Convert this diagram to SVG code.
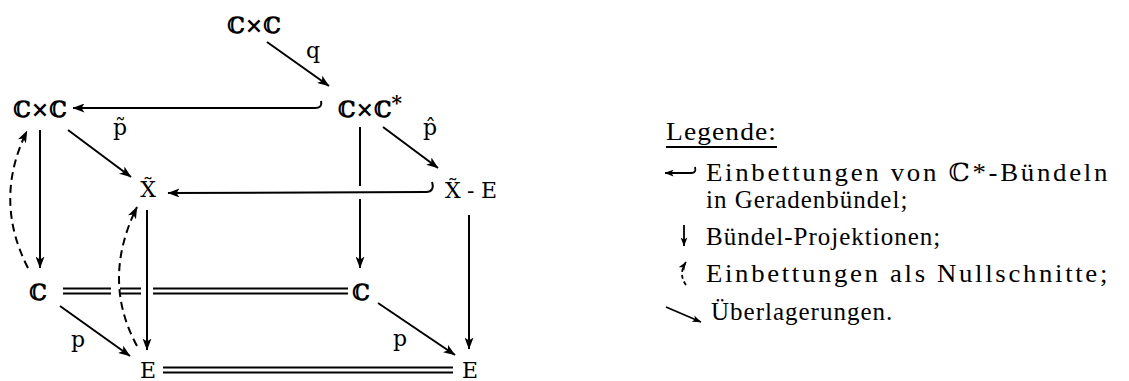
<svg xmlns="http://www.w3.org/2000/svg" width="1129" height="381" viewBox="0 0 1129 381">
<defs>
<marker id="ah" viewBox="0 0 12 9" refX="11.5" refY="4.5" markerWidth="12" markerHeight="9" markerUnits="userSpaceOnUse" orient="auto">
<path d="M0,0 L12,4.5 L0,9 L3,4.5 z" fill="#000"/>
</marker>
<marker id="ahs" viewBox="0 0 12 9" refX="11.5" refY="4.5" markerWidth="9" markerHeight="7" markerUnits="userSpaceOnUse" orient="auto">
<path d="M0,0 L12,4.5 L0,9 L3,4.5 z" fill="#000"/>
</marker>
</defs>
<style>
.m{font-family:"DejaVu Serif","Liberation Serif",serif;font-size:22px;fill:#000}
.b{font-weight:bold}
.l{font-family:"Liberation Serif","DejaVu Serif",serif;font-size:25px;letter-spacing:1px;fill:#000}
.w{letter-spacing:2.5px}
.ln{stroke:#000;stroke-width:2;fill:none}
.ar{stroke:#000;stroke-width:2;fill:none;marker-end:url(#ah)}
.ds{stroke:#000;stroke-width:2;fill:none;stroke-dasharray:8 5;marker-end:url(#ah)}
.dbl{stroke:#000;stroke-width:1.8;fill:none}
.lg{stroke:#000;stroke-width:1.8;fill:none;marker-end:url(#ahs)}
</style>
<rect width="1129" height="381" fill="#fff"/>
<g id="connectors">
<path class="ar" d="M267,42 L329,86"/>
<path class="ar" d="M321,101 C322,106 320,108 315,108 L73,108"/>
<path class="ar" d="M68,130 L131,177"/>
<path class="ar" d="M383,127 L438,168"/>
<path class="ar" d="M432,182 C434,188 432,192 426,192 L168,193"/>
<path class="ln" d="M360,127 L360,186"/>
<path class="ar" d="M360,199 L360,268"/>
<path class="ar" d="M40,130 L40,268"/>
<path class="ds" d="M28,268 Q-7,200 27,131"/>
<path class="ar" d="M147,210 L147,350"/>
<path class="ds" d="M137,346 Q101,280 137,207"/>
<path class="ar" d="M469,215 L469,349"/>
<path class="ar" d="M60,306 L130,356"/>
<path class="ar" d="M378,303 L455,355"/>
<path class="dbl" d="M63,288.5 H111 M63,293.5 H111 M120,288.5 H141 M120,293.5 H141 M153,288.5 H348 M153,293.5 H348"/>
<path class="dbl" d="M163,367.5 H453 M163,372.5 H453"/>
</g>
<g id="n-top"><text class="m b" x="254" y="33" text-anchor="middle">ℂ×ℂ</text></g>
<g id="n-left"><text class="m b" x="40" y="117" text-anchor="middle">ℂ×ℂ</text></g>
<g id="n-cstar"><text class="m b" x="338" y="117">ℂ×ℂ<tspan dy="-7" font-size="20">*</tspan></text></g>
<g id="n-xt"><text class="m" x="148" y="197" text-anchor="middle">X̃</text></g>
<g id="n-xte"><text class="m" x="445" y="198" textLength="52" lengthAdjust="spacing">X̃-E</text></g>
<g id="n-cl"><text class="m b" x="38" y="300" text-anchor="middle">ℂ</text></g>
<g id="n-cr"><text class="m b" x="361" y="300" text-anchor="middle">ℂ</text></g>
<g id="n-el"><text class="m" x="148" y="378" text-anchor="middle">E</text></g>
<g id="n-er"><text class="m" x="470" y="378" text-anchor="middle">E</text></g>
<g id="labels">
<text class="m" x="313" y="58" text-anchor="middle">q</text>
<text class="m" x="120" y="135" text-anchor="middle">p̃</text>
<text class="m" x="430" y="135" text-anchor="middle">p̂</text>
<text class="m" x="78" y="347" text-anchor="middle">p</text>
<text class="m" x="400" y="346" text-anchor="middle">p</text>
</g>
<g id="legend">
<text class="l" x="666" y="140" textLength="111" lengthAdjust="spacingAndGlyphs">Legende:</text>
<line x1="666" y1="147" x2="777" y2="147" stroke="#000" stroke-width="2"/>
<path class="lg" d="M695,167 C696,171 695,173 691,173 L665,173"/>
<text class="l w" x="706" y="181" textLength="404" lengthAdjust="spacingAndGlyphs">Einbettungen von ℂ*-Bündeln</text>
<text class="l" x="706" y="208">in Geradenbündel;</text>
<path class="lg" d="M684,225 L684,246"/>
<text class="l" x="706" y="245">Bündel-Projektionen;</text>
<path d="M686,285 Q678,274 686,262" stroke="#000" stroke-width="1.8" stroke-dasharray="4 3" fill="none" marker-end="url(#ahs)"/>
<text class="l w" x="706" y="282" textLength="404" lengthAdjust="spacingAndGlyphs">Einbettungen als Nullschnitte;</text>
<path class="lg" d="M666,307 L701,322"/>
<text class="l" x="711" y="320">Überlagerungen.</text>
</g>
</svg>
